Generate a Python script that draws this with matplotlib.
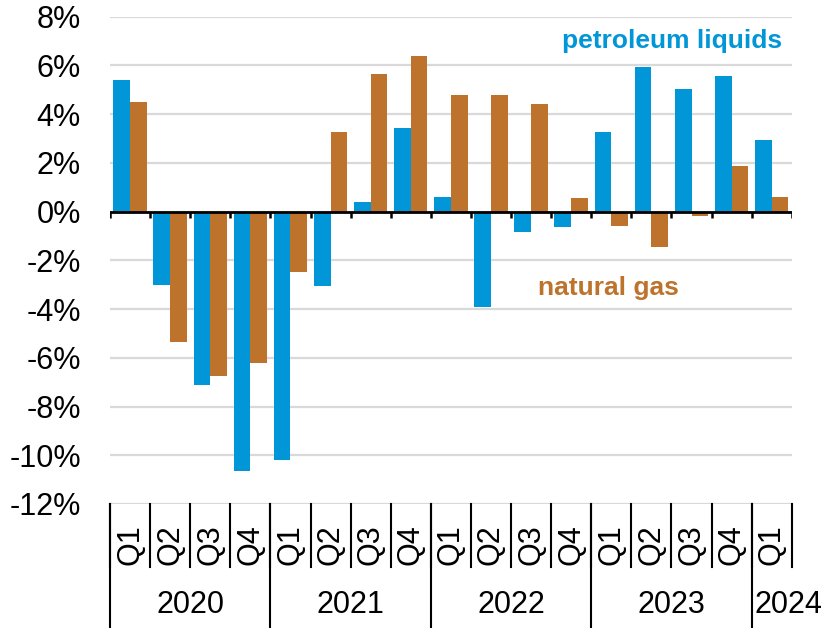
import matplotlib
matplotlib.use("Agg")
import matplotlib.pyplot as plt
import numpy as np

plt.rcParams['font.family'] = ['Liberation Sans', 'DejaVu Sans']

quarters = ['Q1', 'Q2', 'Q3', 'Q4'] * 4 + ['Q1']
years = ['2020', '2021', '2022', '2023', '2024']
petroleum = [5.4, -3.0, -7.1, -10.65, -10.2, -3.05, 0.4, 3.45, 0.6, -3.9, -0.85, -0.65,
             3.25, 5.95, 5.05, 5.55, 2.95]
natgas = [4.5, -5.35, -6.75, -6.2, -2.5, 3.25, 5.65, 6.4, 4.8, 4.8, 4.4, 0.55,
          -0.6, -1.45, -0.2, 1.85, 0.6]
yticks = [8, 6, 4, 2, 0, -2, -4, -6, -8, -10, -12]

blue = '#0096D7'
brown = '#BD732C'

fig = plt.figure(figsize=(8.27, 6.28), dpi=100)
ax = fig.add_axes([0.133, 0.1975, 0.8244, 0.776])

x = np.arange(len(petroleum))
w = 0.417
ax.bar(x - w / 2, petroleum, w, color=blue, zorder=3)
ax.bar(x + w / 2, natgas, w, color=brown, zorder=3)

ax.set_xlim(-0.5, len(x) - 0.5)
ax.set_ylim(-12, 8)
ax.set_yticks(yticks)
ax.set_yticklabels(['%d%%' % t for t in yticks], fontsize=22)
ax.tick_params(axis='y', length=0, pad=21)
ax.set_xticks([])
ax.grid(axis='y', color='#D9D9D9', lw=1.6, zorder=0)
for s in ax.spines.values():
    s.set_visible(False)

# zero line with small ticks between quarters
ax.axhline(0, color='black', lw=2, zorder=4)
ax.vlines(np.arange(len(x) + 1) - 0.5, -0.26, 0, color='black', lw=1.8, zorder=4)

# two-level category axis below the plot
tr = ax.get_xaxis_transform()
for i, q in enumerate(quarters):
    ax.text(i, -0.084, q, rotation=90, ha='center', va='center', fontsize=22,
            transform=tr)
for b in np.arange(len(x) + 1) - 0.5:
    ax.plot([b, b], [0, -0.129], color='black', lw=1.5, transform=tr, clip_on=False)
for k in range(5):
    b = 4 * k - 0.5
    ax.plot([b, b], [0, -0.26], color='black', lw=1.5, transform=tr, clip_on=False)
for k, yr in enumerate(years[:4]):
    ax.text(4 * k + 1.5, -0.207, yr, ha='center', va='center', fontsize=22,
            transform=tr)
ax.text(15.56, -0.207, years[4], ha='left', va='center', fontsize=22, transform=tr)

ax.text(16.27, 7.02, 'petroleum liquids', color=blue, fontsize=19, fontweight='bold',
        ha='right', va='center')
ax.text(11.94, -3.12, 'natural gas', color=brown, fontsize=19, fontweight='bold',
        ha='center', va='center')

fig.savefig('out.png', dpi=100)
